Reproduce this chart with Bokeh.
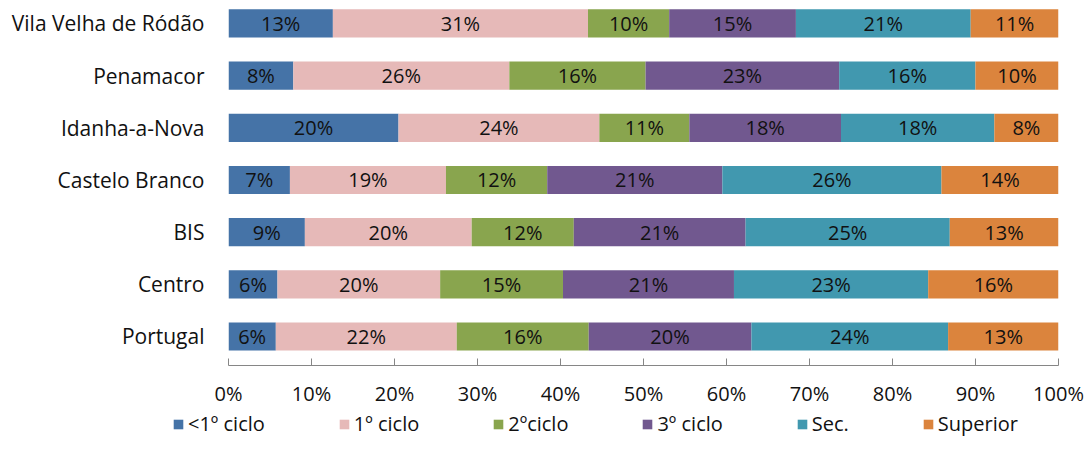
from bokeh.plotting import figure
from bokeh.layouts import column, row
from bokeh.models import ColumnDataSource, Range1d, FixedTicker, Legend, LegendItem, NumeralTickFormatter
from bokeh.core.properties import value
from bokeh.embed import file_html
from bokeh.resources import INLINE

# ---- data (percent shares) ----
regions = ["Vila Velha de Ródão", "Penamacor", "Idanha-a-Nova", "Castelo Branco", "BIS", "Centro", "Portugal"]
series = ["<1º ciclo", "1º ciclo", "2ºciclo", "3º ciclo", "Sec.", "Superior"]
lt1_ciclo = [12.6, 7.8, 20.4, 7.4, 9.2, 5.9, 5.7]
ciclo1 = [30.8, 26.0, 24.1, 18.8, 20.1, 19.6, 21.8]
ciclo2 = [9.8, 16.4, 10.8, 12.2, 12.3, 14.8, 15.9]
ciclo3 = [15.3, 23.3, 18.2, 21.1, 20.7, 20.6, 19.6]
secundario = [21.1, 16.4, 18.4, 26.4, 24.6, 23.4, 23.7]
superior = [10.6, 10.0, 7.7, 14.1, 13.1, 15.7, 13.3]
x_ticks = [0, 10, 20, 30, 40, 50, 60, 70, 80, 90, 100]
colors = ["#4573A7", "#E6B9B8", "#89A54E", "#71588F", "#4198AF", "#DB843D"]

FONT = "Open Sans"
all_series = [lt1_ciclo, ciclo1, ciclo2, ciclo3, secundario, superior]

n = len(regions)
ypos = [n - 1 - i for i in range(n)]  # first region at top

p = figure(width=1091, height=410, output_backend="svg", toolbar_location=None,
           x_range=Range1d(0, 100), y_range=Range1d(-0.556, n - 1 + 0.44),
           min_border_left=228, min_border_right=33, min_border_top=0, min_border_bottom=45)
p.outline_line_color = None
p.xgrid.visible = False
p.ygrid.visible = False

totals = [sum(s[i] for s in all_series) for i in range(n)]
left = [0.0] * n
lab_x, lab_y, lab_t = [], [], []
for name, vals, col in zip(series, all_series, colors):
    share = [v / t * 100 for v, t in zip(vals, totals)]
    right = [l + s for l, s in zip(left, share)]
    src = ColumnDataSource(dict(y=ypos, left=left, right=right))
    p.hbar(y="y", left="left", right="right", height=0.54, source=src,
           fill_color=col, line_color=None)
    for i in range(n):
        lab_x.append((left[i] + right[i]) / 2)
        lab_y.append(ypos[i])
        lab_t.append(f"{round(vals[i]):d}%")
    left = right

lsrc = ColumnDataSource(dict(x=lab_x, y=lab_y, t=lab_t))
p.text(x="x", y="y", text="t", source=lsrc, text_align="center", text_baseline="middle",
       text_font=value(FONT), text_font_size="20px", text_color="#111111")

# x axis
p.xaxis.ticker = FixedTicker(ticks=x_ticks)
p.xaxis.formatter = NumeralTickFormatter(format="0")
p.xaxis.major_label_overrides = {t: f"{t}%" for t in x_ticks}
p.xaxis.axis_line_color = "#868686"
p.xaxis.major_tick_line_color = "#868686"
p.xaxis.major_tick_in = 7
p.xaxis.major_tick_out = 0
p.xaxis.minor_tick_line_color = None
p.xaxis.major_label_standoff = 14
p.xaxis.major_label_text_font = FONT
p.xaxis.major_label_text_font_size = "20px"
p.xaxis.major_label_text_color = "#111111"

# y axis
p.yaxis.ticker = FixedTicker(ticks=ypos)
p.yaxis.major_label_overrides = {y: r for y, r in zip(ypos, regions)}
p.yaxis.axis_line_color = None
p.yaxis.major_tick_line_color = None
p.yaxis.minor_tick_line_color = None
p.yaxis.major_label_standoff = 18
p.yaxis.major_label_text_font = FONT
p.yaxis.major_label_text_font_size = "21px"
p.yaxis.major_label_text_color = "#111111"

# legend strip as a separate, axis-less figure (swatches from off-range dummies)
pl = figure(width=1091, height=56, output_backend="svg", toolbar_location=None,
            x_range=Range1d(0, 1), y_range=Range1d(0, 1),
            min_border_left=0, min_border_right=0, min_border_top=0, min_border_bottom=0)
pl.axis.visible = False
pl.grid.visible = False
pl.outline_line_color = None
items = []
for name, col in zip(series, colors):
    r = pl.quad(left=[5], right=[6], bottom=[5], top=[6], fill_color=col, line_color=None)
    items.append(LegendItem(label=name, renderers=[r]))
legend = Legend(items=items, orientation="horizontal", location=(172, 29),
                glyph_width=12, glyph_height=12, label_standoff=4, spacing=73,
                label_text_font=FONT, label_text_font_size="20px", label_text_color="#111111",
                border_line_color=None, background_fill_alpha=0, padding=0, margin=0)
pl.add_layout(legend, "center")

layout = column(p, row(pl), spacing=0)
open("out.html", "w").write(file_html(layout, INLINE))
